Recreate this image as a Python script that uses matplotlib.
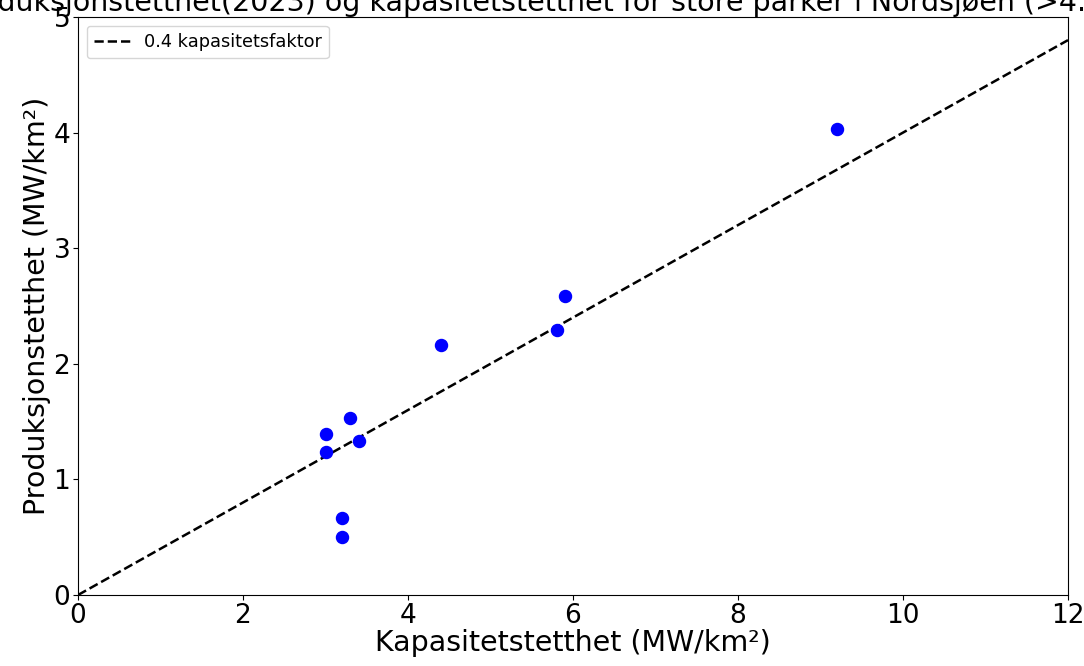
import matplotlib
matplotlib.use("Agg")
import matplotlib.pyplot as plt
import numpy as np

# Data
kapasitetstetthet = [3.0, 3.0, 3.3, 3.4, 3.2, 3.2, 4.4, 5.8, 5.9, 9.2]
produksjonstetthet = [1.39, 1.24, 1.53, 1.33, 0.67, 0.50, 2.16, 2.29, 2.59, 4.03]
kapasitetsfaktor = 0.4
line_x = [0, 12]

fig = plt.figure(figsize=(10.84, 6.66), dpi=100)
ax = fig.add_axes([78/1084, 1-595/666, (1068-78)/1084, (595-17)/666])

ax.scatter(kapasitetstetthet, produksjonstetthet, color="blue", s=75, zorder=3)
lx = np.array(line_x, dtype=float)
ax.plot(lx, kapasitetsfaktor*lx, "k--", lw=1.8, label="0.4 kapasitetsfaktor")

ax.set_xlim(0, 12)
ax.set_ylim(0, 5)
ax.set_xticks([0, 2, 4, 6, 8, 10, 12])
ax.set_yticks([0, 1, 2, 3, 4, 5])
ax.tick_params(labelsize=19, pad=2)
ax.set_xlabel("Kapasitetstetthet (MW/km²)", fontsize=20.5, labelpad=0)
ax.set_ylabel("Produksjonstetthet (MW/km²)", fontsize=20.5, labelpad=2)
ax.set_title("Produksjonstetthet(2023) og kapasitetstetthet for store parker i Nordsjøen (>4.0 GW)",
             fontsize=20.5, pad=4, x=0.49)
ax.legend(loc="upper left", fontsize=12.8)

fig.savefig("out.png", dpi=100)
